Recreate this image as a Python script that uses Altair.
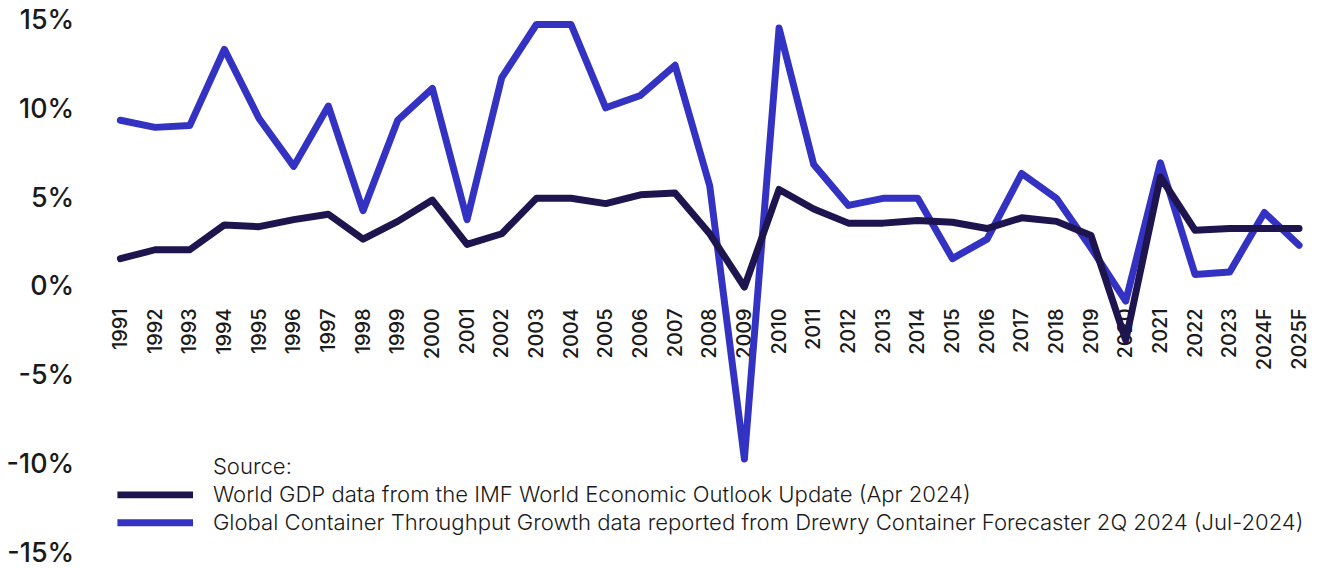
import altair as alt
import pandas as pd

years = ["1991", "1992", "1993", "1994", "1995", "1996", "1997", "1998", "1999", "2000",
         "2001", "2002", "2003", "2004", "2005", "2006", "2007", "2008", "2009", "2010",
         "2011", "2012", "2013", "2014", "2015", "2016", "2017", "2018", "2019", "2020",
         "2021", "2022", "2023", "2024F", "2025F"]

gdp = [1.6, 2.1, 2.1, 3.5, 3.4, 3.8, 4.1, 2.7, 3.7, 4.9,
       2.4, 3.0, 5.0, 5.0, 4.7, 5.2, 5.3, 3.0, 0.0, 5.5,
       4.4, 3.6, 3.6, 3.75, 3.65, 3.3, 3.9, 3.7, 2.9, -3.0,
       6.2, 3.2, 3.3, 3.3, 3.3]

container = [9.4, 9.0, 9.1, 13.4, 9.5, 6.8, 10.2, 4.3, 9.4, 11.2,
             3.8, 11.8, 14.8, 14.8, 10.1, 10.8, 12.5, 5.7, -9.7, 14.6,
             6.9, 4.6, 5.0, 5.0, 1.6, 2.7, 6.4, 5.0, 2.2, -0.8,
             7.0, 0.7, 0.85, 4.2, 2.35]

legend_title = "Source:"
gdp_label = "World GDP data from the IMF World Economic Outlook Update (Apr 2024)"
cont_label = "Global Container Throughput Growth data reported from Drewry Container Forecaster 2Q 2024 (Jul-2024)"
y_ticks = [-15, -10, -5, 0, 5, 10, 15]

df = pd.DataFrame({
    "year": years + years,
    "value": gdp + container,
    "series": [gdp_label] * len(years) + [cont_label] * len(years),
})

color = alt.Color(
    "series:N",
    scale=alt.Scale(domain=[legend_title, gdp_label, cont_label],
                    range=["#ffffff", "#1e154f", "#3332c2"]),
    legend=alt.Legend(
        orient="none", legendX=-6.5, legendY=437.5, title=None,
        direction="vertical", symbolType="stroke", symbolSize=5776,
        symbolStrokeWidth=7, clipHeight=22, rowPadding=5, labelOffset=16.5,
        labelFont="Inter", labelFontSize=22.2, labelFontWeight=300,
        labelColor="#1a1a1a", labelLimit=0, padding=0,
    ),
)

base = alt.Chart(df).encode(
    x=alt.X("year:N", sort=years, scale=alt.Scale(type="point", padding=0),
            axis=alt.Axis(title=None, domain=False, ticks=False, grid=False,
                          labelAngle=270, offset=-267.5, labelPadding=21,
                          labelFont="Inter", labelFontSize=20, labelFontWeight=500,
                          labelColor="#1a1a1a", labelOverlap=False)),
    y=alt.Y("value:Q", scale=alt.Scale(domain=[-15, 15], nice=False, zero=False),
            axis=alt.Axis(title=None, values=y_ticks, domain=False, ticks=False,
                          grid=False, labelExpr="datum.value + '%'", labelPadding=47,
                          labelFont="Inter", labelFontSize=27, labelFontWeight=500,
                          labelColor="#1a1a1a")),
    color=color,
)

line_style = dict(strokeWidth=7, strokeCap="round", strokeJoin="round")
blue = base.transform_filter(alt.datum.series == cont_label).mark_line(**line_style)
black = base.transform_filter(alt.datum.series == gdp_label).mark_line(**line_style)

chart = alt.layer(blue, black).properties(
    width=1185, height=535,
    padding={"left": 113, "top": 11.5, "right": 12, "bottom": 12},
    autosize=alt.AutoSizeParams(type="none"),
    background="white",
).configure_view(stroke=None)

chart.save("out.html", embed_options={"renderer": "svg", "actions": False})
